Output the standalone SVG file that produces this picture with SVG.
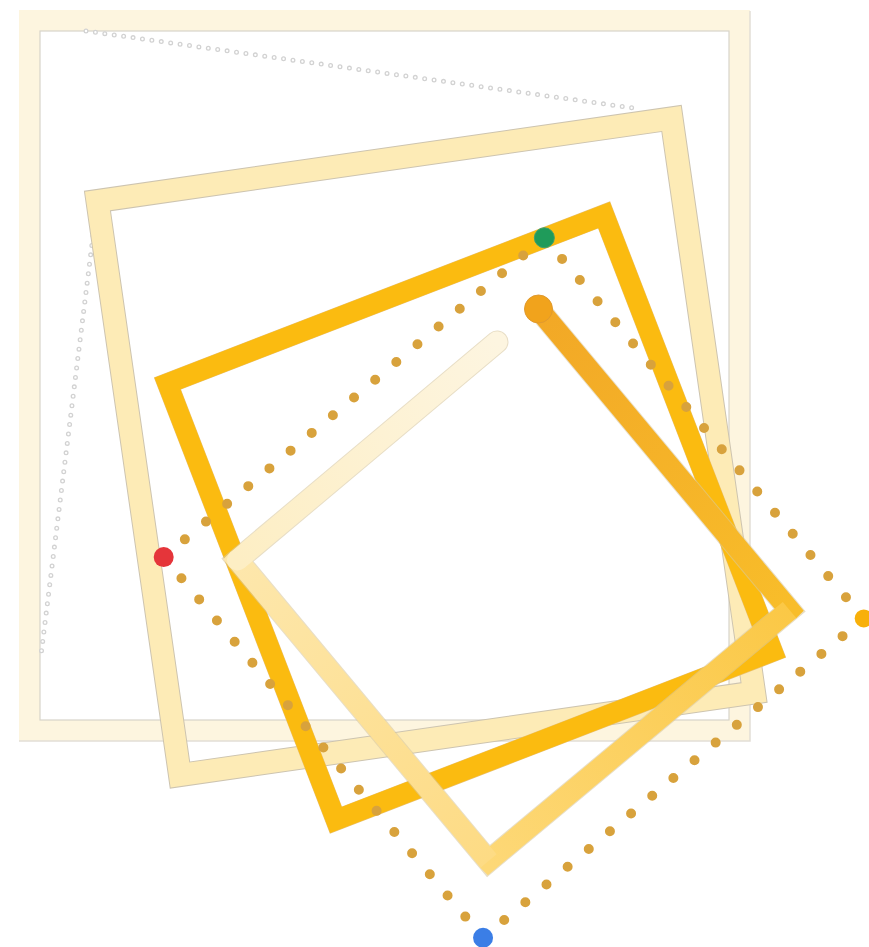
<svg xmlns="http://www.w3.org/2000/svg" width="869" height="947" viewBox="0 0 869 947">
  <defs>
    <style>
      .ring-o { fill: none; stroke: #d2d2d2; stroke-width: 5; stroke-linecap: round; stroke-dasharray: 0 9.5; }
      .ring-i { fill: none; stroke: #ffffff; stroke-width: 2.4; stroke-linecap: round; stroke-dasharray: 0 9.5; }
      .seg { fill: none; stroke-width: 21; stroke-linejoin: miter; stroke-linecap: butt; }
    </style>
    <linearGradient id="g1" gradientUnits="userSpaceOnUse" x1="538.5" y1="309" x2="789.5" y2="610">
      <stop offset="0" stop-color="#f2a826"/>
      <stop offset="1" stop-color="#f8bd2a"/>
    </linearGradient>
    <linearGradient id="g2" gradientUnits="userSpaceOnUse" x1="789.5" y1="610" x2="488.5" y2="861">
      <stop offset="0" stop-color="#fbc846"/>
      <stop offset="1" stop-color="#fdd877"/>
    </linearGradient>
    <linearGradient id="g3" gradientUnits="userSpaceOnUse" x1="488.5" y1="861" x2="237.5" y2="560">
      <stop offset="0" stop-color="#fddb84"/>
      <stop offset="1" stop-color="#fde7ac"/>
    </linearGradient>
    <linearGradient id="g4" gradientUnits="userSpaceOnUse" x1="237.5" y1="560" x2="497" y2="342">
      <stop offset="0" stop-color="#fdeec4"/>
      <stop offset="1" stop-color="#fdf5e0"/>
    </linearGradient>
  </defs>
  <rect width="869" height="947" fill="#ffffff"/>

  <g id="frame">
    <rect x="29.5" y="20.5" width="710" height="710" fill="none" stroke="#fdf5df" stroke-width="21"/>
    <rect x="40" y="31" width="689" height="689" fill="none" stroke="#d8d4ca" stroke-width="1.2"/>
    <polyline points="750,11 750,741 19,741" fill="none" stroke="#e2ded6" stroke-width="1.5"/>
  </g>

  <g id="gray-trail">
    <line class="ring-o" x1="86" y1="31" x2="640" y2="109"/>
    <line class="ring-i" x1="86" y1="31" x2="640" y2="109"/>
    <line class="ring-o" x1="93" y1="236" x2="41" y2="655"/>
    <line class="ring-i" x1="93" y1="236" x2="41" y2="655"/>
  </g>

  <g id="square-mid" transform="translate(425.75,446.75) rotate(-8.18)">
    <rect x="-290" y="-290" width="580" height="580" fill="none" stroke="#cdc4b0" stroke-width="24"/>
    <rect x="-290" y="-290" width="580" height="580" fill="none" stroke="#fdebb6" stroke-width="22"/>
  </g>

  <g id="square-inner" transform="translate(470,517.5) rotate(-21.1)">
    <rect x="-234" y="-234" width="468" height="468" fill="none" stroke="#e8c070" stroke-width="21"/>
    <rect x="-234" y="-234" width="468" height="468" fill="none" stroke="#fbbb10" stroke-width="20"/>
  </g>

  <g id="drawn-square">
    <path d="M538.5,309 L789.5,610 L488.5,861 L237.5,560 L497,342" fill="none" stroke="#d9c8a0" stroke-opacity="0.6" stroke-width="23" stroke-linejoin="miter" stroke-linecap="round"/>
    <path class="seg" d="M538.5,309 L789.5,610 L788.5,611" stroke="url(#g1)"/>
    <path class="seg" d="M789.5,610 L488.5,861 L487.5,860" stroke="url(#g2)"/>
    <path class="seg" d="M488.5,861 L237.5,560 L238.5,559" stroke="url(#g3)"/>
    <path d="M237.5,560 L497,342" fill="none" stroke="url(#g4)" stroke-width="21" stroke-linecap="round"/>
    <circle cx="538.5" cy="309" r="14" fill="#f1a31c" stroke="#e09a30" stroke-width="1"/>
  </g>

  <g id="dot-square">
    <path d="M544.35,237.75 L863.7,618.4 L483.05,937.75 L163.7,557.1 Z" fill="none" stroke="#d8a23c" stroke-width="10" stroke-linecap="round" pathLength="72" stroke-dasharray="0 1"/>
  </g>

  <g id="corner-dots">
    <circle cx="544.35" cy="237.75" r="10" fill="#1f9b5a" stroke="#3aa070" stroke-width="1"/>
    <circle cx="863.7" cy="618.4" r="9" fill="#f8b00a"/>
    <circle cx="483.05" cy="937.75" r="10" fill="#3b7ee6"/>
    <circle cx="163.7" cy="557.1" r="10" fill="#e5353a"/>
  </g>
</svg>
